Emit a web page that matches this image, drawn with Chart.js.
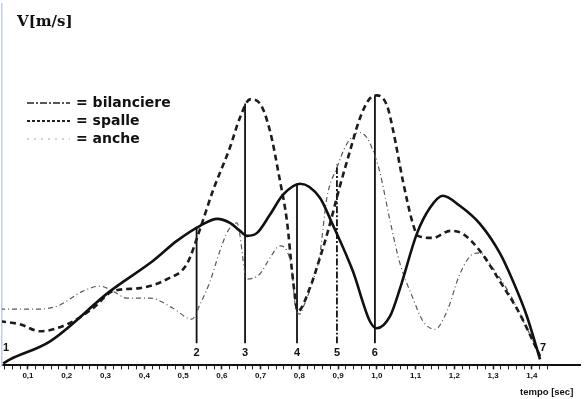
<!DOCTYPE html>
<html>
<head>
<meta charset="utf-8">
<script src="https://cdn.jsdelivr.net/npm/chart.js@4.4.1/dist/chart.umd.min.js"></script>
<style>
html, body { margin: 0; padding: 0; background: #fff; }
#wrap { width: 584px; height: 399px; position: relative; }
</style>
</head>
<body>
<div id="wrap"><canvas id="grafico"></canvas></div>
<script>
// -------------------------------------------
//  DATI
// -------------------------------------------

// bilanciere - linea continua
var tempoBil = [0.036, 0.054, 0.157, 0.312, 0.422, 0.484, 0.544, 0.588, 0.621, 0.647, 0.665, 0.691, 0.724, 0.758, 0.802, 0.853, 0.884, 0.938, 0.982, 1.000, 1.034, 1.060, 1.103, 1.137, 1.170, 1.214, 1.266, 1.317, 1.351, 1.387, 1.421]
var velBil   = [0.02, 0.06, 0.24, 0.74, 1.04, 1.24, 1.39, 1.46, 1.42, 1.34, 1.29, 1.32, 1.50, 1.70, 1.81, 1.67, 1.42, 0.94, 0.44, 0.37, 0.49, 0.77, 1.31, 1.57, 1.69, 1.59, 1.41, 1.12, 0.84, 0.49, 0.06]

// spalle - tratteggio spesso
var tempoSpa = [0.028, 0.079, 0.131, 0.201, 0.268, 0.319, 0.389, 0.459, 0.510, 0.544, 0.577, 0.621, 0.647, 0.673, 0.698, 0.724, 0.750, 0.768, 0.784, 0.796, 0.827, 0.853, 0.874, 0.905, 0.931, 0.956, 0.982, 1.000, 1.026, 1.042, 1.067, 1.093, 1.106, 1.145, 1.189, 1.222, 1.266, 1.317, 1.369, 1.421]
var velSpa   = [0.44, 0.41, 0.34, 0.41, 0.57, 0.74, 0.77, 0.86, 1.01, 1.36, 1.74, 2.17, 2.47, 2.65, 2.61, 2.34, 1.84, 1.44, 0.84, 0.54, 0.77, 1.07, 1.34, 1.79, 2.14, 2.46, 2.66, 2.69, 2.59, 2.34, 1.84, 1.41, 1.29, 1.27, 1.34, 1.31, 1.14, 0.84, 0.51, 0.09]

// anche - linea sottile
var tempoAnc = [0.028, 0.113, 0.175, 0.242, 0.286, 0.319, 0.355, 0.415, 0.474, 0.523, 0.544, 0.570, 0.595, 0.616, 0.639, 0.665, 0.698, 0.724, 0.750, 0.768, 0.781, 0.789, 0.802, 0.809, 0.835, 0.853, 0.871, 0.897, 0.923, 0.956, 0.974, 0.990, 1.008, 1.034, 1.060, 1.093, 1.119, 1.150, 1.181, 1.214, 1.248, 1.266, 1.299, 1.343, 1.387, 1.421]
var velAnc   = [0.56, 0.56, 0.59, 0.74, 0.79, 0.74, 0.67, 0.67, 0.57, 0.46, 0.61, 0.84, 1.14, 1.34, 1.42, 0.86, 0.91, 1.07, 1.19, 1.14, 0.94, 0.61, 0.51, 0.57, 0.84, 1.11, 1.67, 1.97, 2.21, 2.32, 2.27, 2.14, 1.92, 1.44, 1.01, 0.67, 0.44, 0.36, 0.54, 0.91, 1.11, 1.12, 0.97, 0.71, 0.37, 0.11]

// linee verticali delle fasi
var fasiTempo = [0.535, 0.660, 0.794, 0.897, 0.995]
var fasiCima  = [1.38, 2.61, 1.81, 2.00, 2.69]
var fasiNomi  = ["2", "3", "4", "5", "6"]
var inizioFine = [{ t: 0.036, nome: "1" }, { t: 1.421, nome: "7" }]

// asse tempo
var tickPrincipali = [0.1, 0.2, 0.3, 0.4, 0.5, 0.6, 0.7, 0.8, 0.9, 1.0, 1.1, 1.2, 1.3, 1.4]
var etichetteX = ["0,1", "0,2", "0,3", "0,4", "0,5", "0,6", "0,7", "0,8", "0,9", "1,0", "1,1", "1,2", "1,3", "1,4"]

var voci = ["bilanciere", "spalle", "anche"]

// -------------------------------------------
//  COSTRUZIONE
// -------------------------------------------

function punti(tt, vv) {
    var out = []
    for (var i = 0; i < tt.length; i++) out.push({ x: tt[i], y: vv[i] })
    return out
}

// tacche ogni 0,02 fino a 1,44
var tuttiTick = []
for (var k = 2; k <= 72; k++) tuttiTick.push(Math.round(k * 2) / 100)

function etichetta(v) {
    for (var i = 0; i < tickPrincipali.length; i++) {
        if (Math.abs(tickPrincipali[i] - v) < 1e-6) return etichetteX[i]
    }
    return ""
}

var datasets = [
    { label: voci[0], data: punti(tempoBil, velBil), borderColor: "#111", borderWidth: 2.6, borderDash: [] },
    { label: voci[1], data: punti(tempoSpa, velSpa), borderColor: "#1c1c1c", borderWidth: 2.6, borderDash: [6, 4] },
    { label: voci[2], data: punti(tempoAnc, velAnc), borderColor: "#5a5a5a", borderWidth: 1.2, borderDash: [5, 3, 1, 3] }
]

for (var f = 0; f < fasiTempo.length; f++) {
    datasets.push({
        label: "fase " + fasiNomi[f],
        data: [{ x: fasiTempo[f], y: 0.22 }, { x: fasiTempo[f], y: fasiCima[f] }],
        borderColor: "#111",
        borderWidth: 1.8,
        borderDash: f === 3 ? [7, 2, 2, 2] : [],
        tension: 0
    })
}

// testi, legenda e numeri delle fasi
var decorazioni = {
    id: "decorazioni",
    afterDraw: function(chart) {
        var ctx = chart.ctx
        var xs = chart.scales.x
        var ys = chart.scales.y
        ctx.save()
        ctx.fillStyle = "#111"
        ctx.textBaseline = "middle"

        ctx.font = "bold 15px 'DejaVu Serif'"
        ctx.fillText("V[m/s]", 17, 22)

        var stili = [
            { dash: [7, 2, 2, 2], w: 1.6, c: "#222" },
            { dash: [3, 2], w: 2, c: "#222" },
            { dash: [2, 5], w: 1.2, c: "#aaa" }
        ]
        var righe = [103, 121, 139]
        ctx.font = "bold 14px 'DejaVu Sans'"
        for (var i = 0; i < voci.length; i++) {
            ctx.beginPath()
            ctx.setLineDash(stili[i].dash)
            ctx.lineWidth = stili[i].w
            ctx.strokeStyle = stili[i].c
            ctx.moveTo(27, righe[i])
            ctx.lineTo(70, righe[i])
            ctx.stroke()
            ctx.fillText("= " + voci[i], 76, righe[i])
        }
        ctx.setLineDash([])

        ctx.font = "bold 11px 'Liberation Sans'"
        ctx.textAlign = "center"
        var yNum = ys.getPixelForValue(0.12)
        for (var j = 0; j < fasiTempo.length; j++) {
            ctx.fillText(fasiNomi[j], xs.getPixelForValue(fasiTempo[j]), yNum)
        }
        for (var m = 0; m < inizioFine.length; m++) {
            ctx.fillText(inizioFine[m].nome, xs.getPixelForValue(inizioFine[m].t) + 3, ys.getPixelForValue(0.17))
        }

        ctx.textAlign = "left"
        ctx.font = "bold 9.5px 'Liberation Sans'"
        ctx.fillText("tempo [sec]", 520, 392)
        ctx.restore()
    }
}

new Chart(document.getElementById("grafico"), {
    type: "line",
    data: { datasets: datasets },
    options: {
        responsive: true,
        maintainAspectRatio: false,
        animation: false,
        layout: { padding: { left: 2, right: 4, top: 4, bottom: 16 } },
        elements: {
            point: { radius: 0 },
            line: { cubicInterpolationMode: "monotone", fill: false }
        },
        plugins: { legend: { display: false }, tooltip: { enabled: false } },
        scales: {
            x: {
                type: "linear",
                min: 0.033,
                max: 1.524,
                afterBuildTicks: function(s) {
                    s.ticks = tuttiTick.map(function(v) { return { value: v } })
                },
                ticks: {
                    autoSkip: false,
                    maxRotation: 0,
                    padding: 2,
                    color: "#111",
                    font: { family: "'Liberation Sans'", weight: "bold", size: 8 },
                    callback: function(v) { return etichetta(v) }
                },
                grid: {
                    drawOnChartArea: false,
                    tickLength: 4,
                    tickColor: "#222",
                    tickWidth: function(c) { return etichetta(c.tick ? c.tick.value : 0) ? 1.6 : 1 }
                },
                border: { color: "#111", width: 2 }
            },
            y: {
                min: 0,
                max: 3.6,
                ticks: { display: false },
                grid: { display: false, drawTicks: false },
                border: { color: "#c3cde0", width: 1.5 }
            }
        }
    },
    plugins: [decorazioni]
})
</script>
</body>
</html>
